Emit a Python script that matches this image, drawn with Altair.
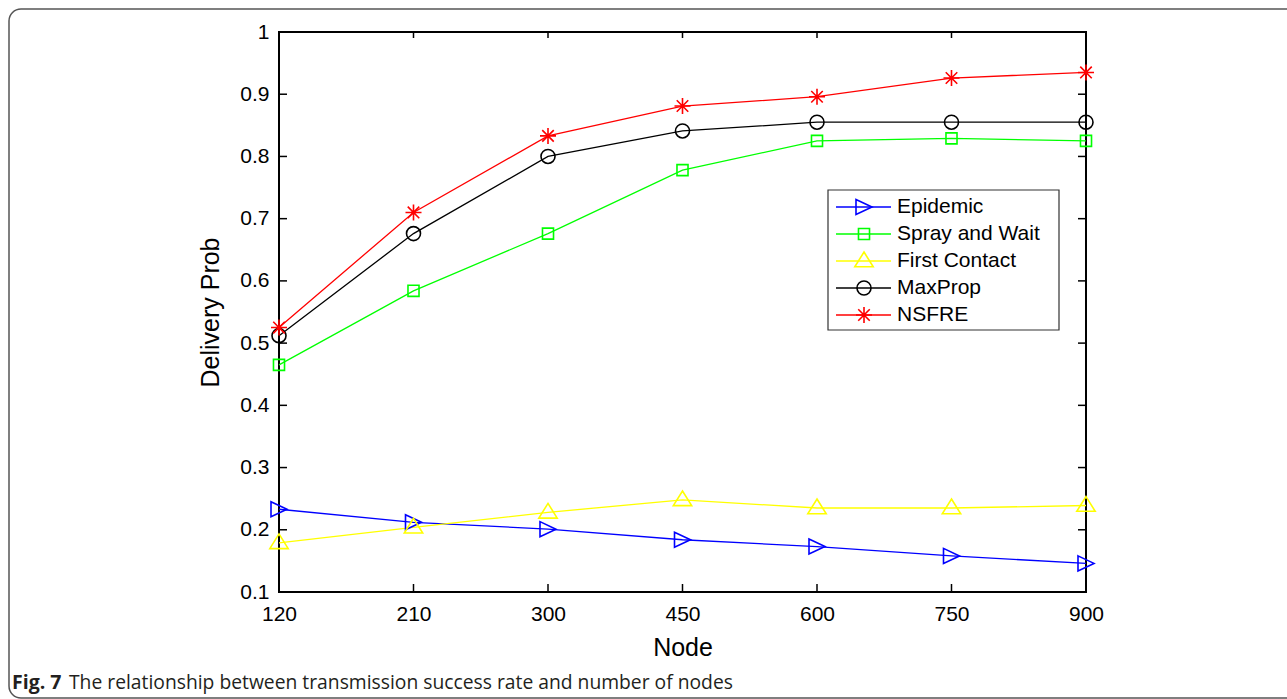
import altair as alt
import pandas as pd

# Number of nodes (x categories) and delivery probability per routing protocol
nodes = ["120", "210", "300", "450", "600", "750", "900"]
series_names = ["Epidemic", "Spray and Wait", "First Contact", "MaxProp", "NSFRE"]

epidemic = [0.233, 0.212, 0.201, 0.184, 0.173, 0.158, 0.146]
spray_and_wait = [0.465, 0.584, 0.676, 0.778, 0.825, 0.829, 0.825]
first_contact = [0.179, 0.204, 0.228, 0.248, 0.235, 0.235, 0.239]
maxprop = [0.512, 0.676, 0.800, 0.841, 0.855, 0.855, 0.855]
nsfre = [0.525, 0.710, 0.833, 0.881, 0.896, 0.926, 0.935]

y_ticks = [0.1, 0.2, 0.3, 0.4, 0.5, 0.6, 0.7, 0.8, 0.9, 1.0]
caption_bold = "Fig. 7"
caption_text = "The relationship between transmission success rate and number of nodes"

# MATLAB-like marker outlines, all drawn at one symbol size
colors = ["#0000ff", "#00ff00", "#ffff00", "#000000", "#ff0000"]
tri_right = "M-1,-0.94L1,0L-1,0.94Z"
square = "M-0.69,-0.69L0.69,-0.69L0.69,0.69L-0.69,0.69Z"
tri_up = "M0,-1.12L1.15,0.72L-1.15,0.72Z"
circle = "M0.875,0A0.875,0.875,0,1,1,-0.875,0A0.875,0.875,0,1,1,0.875,0Z"
asterisk = "M-1,0L1,0M0,-1L0,1M-0.72,-0.72L0.72,0.72M-0.72,0.72L0.72,-0.72"
shapes = [tri_right, square, tri_up, circle, asterisk]
SYMBOL_SIZE = 256

W, H = 807, 560
FONT = "Liberation Sans, Arial, Helvetica, sans-serif"
CAP_FONT = "Open Sans, sans-serif"

values = [epidemic, spray_and_wait, first_contact, maxprop, nsfre]
df = pd.DataFrame(
    [
        {"series": name, "node": n, "prob": v}
        for name, vals in zip(series_names, values)
        for n, v in zip(nodes, vals)
    ]
)

color_scale = alt.Scale(domain=series_names, range=colors)
shape_scale = alt.Scale(domain=series_names, range=shapes)
x_scale = alt.Scale(type="point", padding=0)
y_scale = alt.Scale(domain=[0.1, 1.0], nice=False, zero=False)

x_enc = alt.X(
    "node:O",
    sort=nodes,
    scale=x_scale,
    axis=alt.Axis(
        title="Node",
        labelAngle=0,
        labelFontSize=21,
        labelFont=FONT,
        labelColor="#000",
        labelPadding=11,
        ticks=False,
        tickSize=0,
        domain=False,
        grid=False,
        titleFontSize=25,
        titleFont=FONT,
        titleFontWeight="normal",
        titleColor="#000",
        titlePadding=11,
    ),
)
y_enc = alt.Y(
    "prob:Q",
    scale=y_scale,
    axis=alt.Axis(
        title="Delivery Prob",
        values=y_ticks,
        format="~g",
        labelFontSize=21,
        labelFont=FONT,
        labelColor="#000",
        labelPadding=10,
        ticks=False,
        tickSize=0,
        domain=False,
        grid=False,
        titleFontSize=25,
        titleFont=FONT,
        titleFontWeight="normal",
        titleColor="#000",
        titlePadding=16,
    ),
)

base = alt.Chart(df)
lines = base.mark_line(strokeWidth=1.3).encode(
    x=x_enc,
    y=y_enc,
    color=alt.Color("series:N", scale=color_scale, legend=None),
    detail="series:N",
)
points = base.mark_point(
    filled=False, strokeWidth=1.6, opacity=1, size=SYMBOL_SIZE
).encode(
    x=alt.X("node:O", sort=nodes, scale=x_scale),
    y=alt.Y("prob:Q", scale=y_scale),
    color=alt.Color("series:N", scale=color_scale, legend=None),
    shape=alt.Shape("series:N", scale=shape_scale, legend=None),
)

# Inward tick marks on all four sides of the box
node_df = pd.DataFrame({"node": nodes})
inner_y = pd.DataFrame({"v": y_ticks[1:-1]})
tick_style = dict(color="#000", strokeWidth=1.5)
x_tick_enc = alt.X("node:O", sort=nodes, scale=x_scale)
bottom_ticks = alt.Chart(node_df).mark_rule(**tick_style).encode(
    x=x_tick_enc, y=alt.value(H), y2=alt.value(H - 8)
)
top_ticks = alt.Chart(node_df).mark_rule(**tick_style).encode(
    x=x_tick_enc, y=alt.value(0), y2=alt.value(6)
)
left_ticks = alt.Chart(inner_y).mark_rule(**tick_style).encode(
    y=alt.Y("v:Q", scale=y_scale), x=alt.value(0), x2=alt.value(8)
)
right_ticks = alt.Chart(inner_y).mark_rule(**tick_style).encode(
    y=alt.Y("v:Q", scale=y_scale), x=alt.value(W - 8), x2=alt.value(W)
)

# Rounded outer frame and figure caption
one = pd.DataFrame({"bold": [caption_bold], "text": [caption_text]})
frame = alt.Chart(one).mark_rect(
    fill=None, stroke="#555", strokeWidth=1.5, cornerRadius=12
).encode(
    x=alt.value(-270), x2=alt.value(W + 240),
    y=alt.value(-23), y2=alt.value(H + 106),
)
cap_bold = alt.Chart(one).mark_text(
    align="left", baseline="middle", fontSize=19.5, fontWeight="bold",
    font=CAP_FONT, color="#231f20",
).encode(x=alt.value(-267), y=alt.value(651), text="bold:N")
cap_rest = alt.Chart(one).mark_text(
    align="left", baseline="middle", fontSize=19.3,
    font=CAP_FONT, color="#231f20",
).encode(x=alt.value(-210), y=alt.value(651), text="text:N")

main = alt.layer(
    frame, lines, points, bottom_ticks, top_ticks, left_ticks, right_ticks,
    cap_bold, cap_rest,
)

# Legend box drawn inside the plot
legend_df = pd.DataFrame({"series": series_names})
leg_y = alt.Y(
    "series:N", sort=series_names,
    scale=alt.Scale(type="point", padding=0, range=[175, 283]), axis=None,
)
leg_box = alt.Chart(one).mark_rect(
    fill="#fff", stroke="#333", strokeWidth=1.2
).encode(x=alt.value(549), x2=alt.value(780), y=alt.value(158), y2=alt.value(298))
leg_lines = alt.Chart(legend_df).mark_rule(strokeWidth=1.3).encode(
    y=leg_y, x=alt.value(557), x2=alt.value(612),
    color=alt.Color("series:N", scale=color_scale, legend=None),
)
leg_points = alt.Chart(legend_df).mark_point(
    filled=False, strokeWidth=1.6, opacity=1, size=SYMBOL_SIZE
).encode(
    y=leg_y, x=alt.value(585),
    color=alt.Color("series:N", scale=color_scale, legend=None),
    shape=alt.Shape("series:N", scale=shape_scale, legend=None),
)
leg_text = alt.Chart(legend_df).mark_text(
    align="left", baseline="middle", fontSize=21, font=FONT, color="#000"
).encode(y=leg_y, x=alt.value(618), text="series:N")
legend = alt.layer(leg_box, leg_lines, leg_points, leg_text)

chart = (
    alt.layer(main, legend)
    .resolve_scale(y="independent")
    .properties(
        width=W,
        height=H,
        autosize=alt.AutoSizeParams(type="none"),
        padding={"left": 279, "top": 32, "right": 201, "bottom": 107},
        background="#ffffff",
    )
    .configure_view(stroke="#000", strokeWidth=2)
)

chart.save("out.html", embed_options={"renderer": "svg", "actions": False})
